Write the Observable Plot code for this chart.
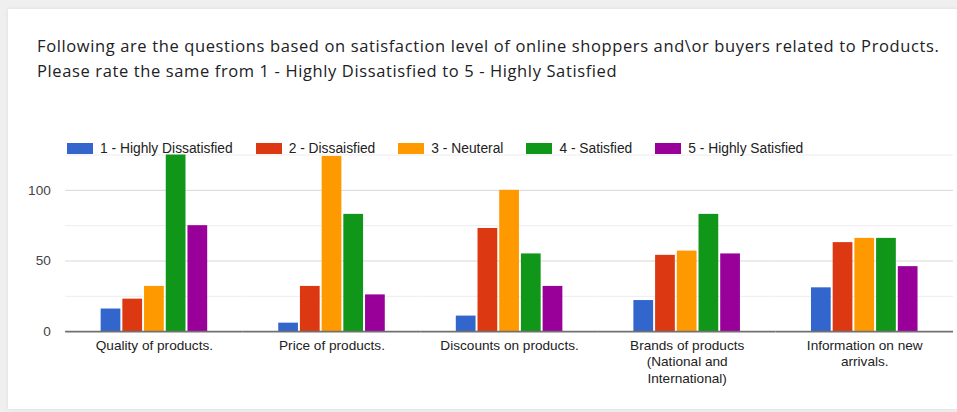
<!DOCTYPE html>
<html>
<head>
<meta charset="utf-8">
<script src="https://cdn.jsdelivr.net/npm/d3@7"></script>
<script src="https://cdn.jsdelivr.net/npm/@observablehq/plot@0.6"></script>
<style>
  html, body { margin: 0; padding: 0; width: 957px; height: 412px; overflow: hidden; background: #efefef; }
  #card { position: absolute; left: 8px; top: 9px; width: 1000px; height: 400px; background: #fff; box-shadow: 0 0 4px rgba(0,0,0,0.08); }
  #title { position: absolute; left: 37px; top: 33px; font-family: "Open Sans", Roboto, sans-serif; font-size: 16.5px; letter-spacing: 0.62px; line-height: 25px; color: #202124; white-space: nowrap; }
  #legend { position: absolute; left: 67px; top: 141px; display: flex; align-items: center; font-family: "Liberation Sans", Arial, sans-serif; font-size: 13.8px; color: #222; white-space: nowrap; z-index: 2; }
  #legend .item { display: flex; align-items: center; margin-right: 23px; }
  #legend .sw { width: 26px; height: 11px; margin-right: 7px; }
  #chart { position: absolute; left: 0; top: 120px; }
</style>
</head>
<body>
<div id="card"></div>
<div id="title">Following are the questions based on satisfaction level of online shoppers and\or buyers related to Products.<br>Please rate the same from 1 - Highly Dissatisfied to 5 - Highly Satisfied</div>
<div id="legend"></div>
<div id="chart"></div>
<script>
const categories = ["Quality of products.", "Price of products.", "Discounts on products.", "Brands of products (National and International)", "Information on new arrivals."];
const categoryLabels = ["Quality of products.", "Price of products.", "Discounts on products.", "Brands of products\n(National and\nInternational)", "Information on new\narrivals."];
const series = ["1 - Highly Dissatisfied", "2 - Dissaisfied", "3 - Neuteral", "4 - Satisfied", "5 - Highly Satisfied"];
const colors = ["#3366cc", "#dc3912", "#ff9900", "#109618", "#990099"];
const highlyDissatisfied = [16, 6, 11, 22, 31];
const dissatisfied = [23, 32, 73, 54, 63];
const neutral = [32, 124, 100, 57, 66];
const satisfied = [125, 83, 55, 83, 66];
const highlySatisfied = [75, 26, 32, 55, 46];
const yTicks = [0, 50, 100];
const majorGrid = [50, 100];
const minorGrid = [25, 75, 125];

const seriesValues = [highlyDissatisfied, dissatisfied, neutral, satisfied, highlySatisfied];
const table = [];
categories.forEach((c, i) => series.forEach((s, j) => table.push({category: c, series: s, value: seriesValues[j][i]})));

// legend
const legend = document.getElementById("legend");
series.forEach((s, j) => {
  const item = document.createElement("div");
  item.className = "item";
  const sw = document.createElement("div");
  sw.className = "sw";
  sw.style.background = colors[j];
  const t = document.createElement("span");
  t.textContent = s;
  item.appendChild(sw); item.appendChild(t);
  legend.appendChild(item);
});

const chart = Plot.plot({
  width: 970,
  height: 292,
  marginLeft: 66,
  marginRight: 4,
  marginTop: 35,
  marginBottom: 78,
  style: {fontFamily: "'Liberation Sans', Arial, sans-serif", fontSize: "13.8px", color: "#222", background: "transparent"},
  fx: {domain: categories, padding: 0, label: null, axis: null},
  x: {domain: series, paddingInner: 0.07, paddingOuter: 1.5, axis: null},
  y: {domain: [0, 125], axis: null},
  color: {domain: series, range: colors},
  marks: [
    Plot.ruleY(minorGrid, {stroke: "#ececec", strokeWidth: 1}),
    Plot.ruleY(majorGrid, {stroke: "#d6d6d6", strokeWidth: 1}),
    Plot.barY(table, {fx: "category", x: "series", y: "value", fill: "series"}),
    Plot.ruleY([0], {stroke: "#707070", strokeWidth: 2}),
    Plot.axisY(yTicks, {tickSize: 0, tickPadding: 15, fill: "#444", fontSize: 13.8, label: null}),
    Plot.axisFx({anchor: "bottom", tickSize: 0, tickPadding: 7, fill: "#222", fontSize: 13.8, lineHeight: 1.2, label: null,
      tickFormat: d => categoryLabels[categories.indexOf(d)]})
  ]
});
document.getElementById("chart").appendChild(chart);
</script>
</body>
</html>
